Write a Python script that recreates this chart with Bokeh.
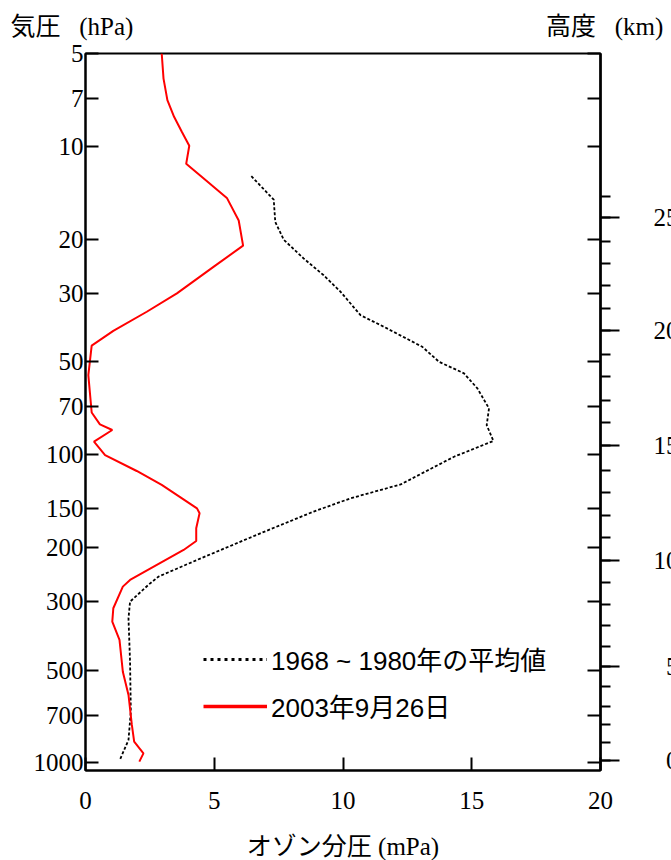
import numpy as np
from bokeh.plotting import figure
from bokeh.models import (Range1d, FixedTicker, LogAxis, Legend, LegendItem,
                          PrintfTickFormatter, Title)
from bokeh.embed import file_html
from bokeh.resources import INLINE

# ---------------- data ----------------
# 2003-09-26 sounding: ozone partial pressure (mPa) vs pressure (hPa)
press_2003 = [5.0, 6.03, 7.08, 8.02, 8.97, 9.96, 11.4, 12.7, 14.7, 17.4,
              21.0, 24.6, 30.0, 34.4, 39.7, 44.3, 55.2, 73.0, 79.8, 83.2,
              90.8, 100.3, 113, 125.4, 149.4, 155, 173.4, 190.6, 203.8, 255,
              268, 315, 348, 399, 506, 602, 753, 853, 931, 990]
ozone_2003 = [2.96, 3.03, 3.18, 3.44, 3.74, 4.03, 3.91, 4.58, 5.49, 5.95,
              6.12, 4.97, 3.55, 2.38, 1.08, 0.24, 0.11, 0.24, 0.56, 1.04,
              0.33, 0.76, 1.99, 2.96, 4.33, 4.43, 4.30, 4.30, 3.81, 1.73,
              1.45, 1.08, 1.04, 1.32, 1.45, 1.67, 1.80, 1.89, 2.25, 2.09]

# 1968-1980 mean profile
press_mean = [12.5, 14.9, 17.6, 20.1, 23.1, 26.2, 29.6, 35.3, 38.5, 44.7,
              50.0, 54.5, 61.0, 70.8, 80.2, 90.3, 101.6, 124.9, 138.6, 153,
              180, 219.6, 248.8, 264.6, 299.8, 339.6, 469, 681, 842, 983]
ozone_mean = [6.44, 7.31, 7.37, 7.70, 8.47, 9.25, 9.90, 10.68, 11.59, 13.08,
              13.73, 14.70, 15.22, 15.67, 15.58, 15.84, 14.31, 12.24, 10.29, 8.86,
              6.79, 4.33, 2.83, 2.44, 1.73, 1.67, 1.73, 1.76, 1.67, 1.32]

press_ticks = [5, 7, 10, 20, 30, 50, 70, 100, 150, 200, 300, 500, 700, 1000]
ozone_ticks = [0, 5, 10, 15, 20]

# height axis (km) and the pressure (hPa) at which each km tick sits
height_km = list(range(27))
height_hpa = [985, 859, 752, 655, 567, 488, 420, 358, 306, 260,
              221, 185.5, 157.4, 132.6, 112.2, 93.6, 78.9, 66.7, 55.9, 47.2,
              39.5, 33.6, 28.3, 24.0, 20.4, 17.0, 14.5]
height_major = [0, 5, 10, 15, 20, 25]

label_mean = "1968 ~ 1980年の平均値"
label_2003 = "2003年9月26日"
x_title = "オゾン分圧 (mPa)"
NB = "\u00a0"
top_title = ("気圧" + NB * 3 + "(hPa)" + NB * 66 + "高度" + NB * 3 + "(km)")

# ---------------- layout ----------------
W = 690
ML, MT, FW, FH = 85, 52, 515, 717
MB = 90
X0, X1 = 0, 20
P_TOP, P_BOT = 5, 1058

SERIF = "Liberation Serif"
MIXED = "'Liberation Serif', 'Noto Sans CJK JP'"
SANS_CJK = "'Liberation Sans', 'Noto Sans CJK JP'"

p = figure(frame_width=FW, frame_height=FH, y_axis_type="log",
           x_range=Range1d(X0, X1), y_range=Range1d(P_BOT, P_TOP),
           output_backend="svg", toolbar_location=None,
           min_border_left=ML, min_border_top=MT,
           min_border_right=W - ML - FW, min_border_bottom=MB)
p.background_fill_color = "white"
p.border_fill_color = "white"
p.outline_line_color = "black"
p.outline_line_width = 2
p.outline_line_alpha = 1
p.xgrid.visible = False
p.ygrid.visible = False

# titles of the two vertical axes, on one line above the frame
p.title = Title(text=top_title, align="left", offset=-75, vertical_align="top",
                standoff=24, text_font=MIXED, text_font_size="25px",
                text_font_style="normal", text_color="black")

# x axis
xa = p.xaxis[0]
xa.ticker = FixedTicker(ticks=ozone_ticks)
xa.major_tick_in = 13
xa.major_tick_out = 0
xa.minor_tick_in = 0
xa.minor_tick_out = 0
xa.axis_line_width = 2
xa.major_tick_line_width = 2
xa.major_label_standoff = 21
xa.major_label_text_font = SERIF
xa.major_label_text_font_size = "25px"
xa.major_label_text_color = "black"
xa.axis_label = x_title
xa.axis_label_text_font = MIXED
xa.axis_label_text_font_size = "25px"
xa.axis_label_text_font_style = "normal"
xa.axis_label_text_color = "black"
xa.axis_label_standoff = 21

# left pressure axis
ya = p.yaxis[0]
ya.ticker = FixedTicker(ticks=press_ticks)
ya.formatter = PrintfTickFormatter(format="%d")
ya.major_tick_in = 13
ya.major_tick_out = 0
ya.minor_tick_in = 0
ya.minor_tick_out = 0
ya.axis_line_width = 2
ya.major_tick_line_width = 2
ya.major_label_standoff = 2
ya.major_label_text_font = SERIF
ya.major_label_text_font_size = "25px"
ya.major_label_text_color = "black"

# right side: pressure ticks pointing inward (no labels)
ra = LogAxis(ticker=FixedTicker(ticks=press_ticks),
             formatter=PrintfTickFormatter(format=""),
             major_tick_in=13, major_tick_out=0, minor_tick_in=0, minor_tick_out=0,
             major_label_standoff=0,
             axis_line_width=2, major_tick_line_width=2)
p.add_layout(ra, "right")

# right side: height ticks pointing outward, labelled in km
height_labels = {height_hpa[k]: (str(k) if k >= 10 else "\u2007" + str(k))
                 for k in height_major}
ha = LogAxis(ticker=FixedTicker(ticks=[height_hpa[k] for k in height_major],
                                minor_ticks=height_hpa),
             major_label_overrides=height_labels,
             major_tick_in=0, major_tick_out=19, minor_tick_in=0, minor_tick_out=10,
             major_label_standoff=34,
             major_label_text_font=SERIF, major_label_text_font_size="25px",
             major_label_text_color="black",
             axis_line_width=2, major_tick_line_width=2, minor_tick_line_width=2)
p.add_layout(ha, "right")

# data lines
p.line(ozone_mean, press_mean, line_color="black", line_width=1.8, line_dash="3 2")
p.line(ozone_2003, press_2003, line_color="red", line_width=2)

# legend samples (drawn a little heavier, as in the original)
leg_mean = p.line([np.nan], [np.nan], line_color="black", line_width=3, line_dash="3 4")
leg_2003 = p.line([np.nan], [np.nan], line_color="red", line_width=3.5)
legend = Legend(items=[LegendItem(label=label_mean, renderers=[leg_mean]),
                       LegendItem(label=label_2003, renderers=[leg_2003])],
                location=(118, 46), padding=0, margin=0, spacing=10,
                glyph_width=64, glyph_height=26, label_height=26, label_standoff=4,
                border_line_color=None, background_fill_alpha=0,
                label_text_font=SANS_CJK, label_text_font_size="26px",
                label_text_color="black")
p.add_layout(legend)

open("out.html", "w").write(file_html(p, INLINE))
